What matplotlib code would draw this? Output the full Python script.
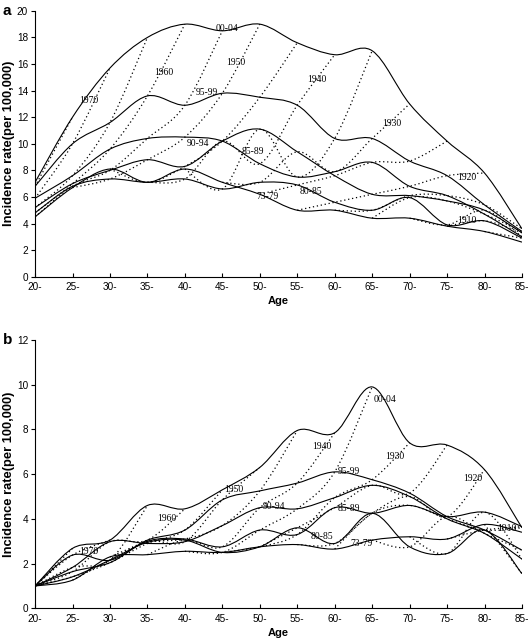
import numpy as np
import matplotlib.pyplot as plt
from matplotlib.path import Path
from matplotlib.patches import PathPatch

plt.rcParams['font.family'] = ['Liberation Sans', 'DejaVu Sans']

ages = [20, 25, 30, 35, 40, 45, 50, 55, 60, 65, 70, 75, 80, 85]
age_labels = [f"{a}-" for a in ages]
periods = ["73-79", "80-85", "85-89", "90-94", "95-99", "00-04"]

# panel a - incidence by period (per 100,000)
a_7379 = [4.5, 6.7, 8.1, 7.1, 8.1, 7.1, 6.2, 5.0, 5.0, 4.4, 4.4, 3.8, 3.4, 2.6]
a_8085 = [4.8, 6.8, 7.35, 7.1, 7.35, 6.6, 7.1, 6.9, 5.6, 5.0, 5.95, 3.9, 4.2, 2.9]
a_8589 = [5.2, 7.0, 8.0, 8.8, 8.3, 10.2, 11.1, 9.4, 7.6, 6.2, 6.1, 5.7, 5.0, 3.3]
a_9094 = [5.9, 7.6, 9.6, 10.4, 10.5, 10.2, 8.5, 7.5, 7.9, 8.6, 6.8, 6.1, 4.7, 3.0]
a_9599 = [6.8, 10.0, 11.6, 13.6, 12.9, 13.8, 13.5, 12.9, 10.4, 10.4, 8.7, 7.6, 5.4, 3.4]
a_0004 = [7.1, 12.0, 15.7, 18.0, 19.0, 18.5, 19.0, 17.6, 16.7, 17.0, 13.0, 10.2, 7.8, 3.6]

# panel b
b_7379 = [1.0, 1.26, 2.3, 2.4, 2.55, 2.5, 2.75, 2.85, 2.65, 3.05, 3.2, 3.1, 3.75, 3.4]
b_8085 = [1.0, 1.41, 2.16, 2.95, 3.05, 2.5, 2.75, 3.6, 2.9, 4.25, 2.75, 2.45, 3.5, 1.55]
b_8589 = [1.0, 1.64, 2.04, 3.0, 3.1, 2.75, 3.5, 3.3, 4.5, 4.25, 4.6, 4.1, 4.3, 3.65]
b_9094 = [1.0, 1.83, 2.98, 2.9, 2.98, 3.7, 4.5, 4.45, 4.95, 5.5, 5.0, 4.0, 3.35, 2.2]
b_9599 = [1.0, 2.38, 2.15, 3.05, 3.5, 4.85, 5.25, 5.6, 6.1, 5.75, 5.15, 4.1, 3.5, 2.6]
b_0004 = [1.0, 2.68, 3.05, 4.6, 4.45, 5.3, 6.3, 7.95, 7.85, 9.9, 7.4, 7.3, 6.2, 3.6]

# text labels: (text, age, rate)
labels_a = [("00-04", 45.6, 18.7), ("95-99", 43.0, 13.85), ("90-94", 41.8, 10.0),
            ("85-89", 49.1, 9.45), ("80-85", 56.8, 6.4), ("73-79", 51.0, 6.05),
            ("1970", 27.2, 13.25), ("1960", 37.2, 15.4), ("1950", 46.8, 16.1),
            ("1940", 57.6, 14.8), ("1930", 67.6, 11.55), ("1920", 77.7, 7.5),
            ("1910", 77.6, 4.25)]
labels_b = [("00-04", 66.7, 9.32), ("95-99", 61.9, 6.1), ("90-94", 51.9, 4.55),
            ("85-89", 61.9, 4.47), ("80-85", 58.3, 3.23), ("73-79", 63.6, 2.88),
            ("1970", 27.2, 2.55), ("1960", 37.6, 4.0), ("1950", 46.5, 5.3),
            ("1940", 58.3, 7.25), ("1930", 68.0, 6.8), ("1920", 78.5, 5.8),
            ("1910", 83.0, 3.55)]


def smooth_path(xs, ys):
    pts = np.column_stack([xs, ys]).astype(float)
    n = len(pts)
    verts = [pts[0]]
    codes = [Path.MOVETO]
    for i in range(n - 1):
        p0 = pts[max(i - 1, 0)]
        p1 = pts[i]
        p2 = pts[i + 1]
        p3 = pts[min(i + 2, n - 1)]
        verts += [p1 + (p2 - p0) / 6, p2 - (p3 - p1) / 6, p2]
        codes += [Path.CURVE4] * 3
    return Path(verts, codes)


def draw_panel(ax, series, labels, ymax, letter):
    grid = np.array(series)  # rows = period, cols = age
    # period curves (solid)
    for row in grid:
        ax.add_patch(PathPatch(smooth_path(ages, row), fill=False,
                               edgecolor='black', lw=0.8))
    # cohort curves (dotted): period k at age i -> period k+1 at age i+1
    n_p, n_a = grid.shape
    for j in range(-(n_p - 1), n_a):
        xs, ys = [], []
        for k in range(n_p):
            i = j + k
            if 0 <= i < n_a:
                xs.append(ages[i])
                ys.append(grid[k, i])
        if len(xs) > 1:
            ax.add_patch(PathPatch(smooth_path(xs, ys), fill=False,
                                   edgecolor='black', lw=0.9,
                                   linestyle=(0, (1.0, 2.2))))
    for txt, x, y in labels:
        ax.text(x, y, txt, ha='center', va='center', fontsize=6.9,
                family='Liberation Serif')

    ax.set_xlim(20, 85)
    ax.set_ylim(0, ymax)
    ax.set_xticks(ages)
    ax.set_xticklabels(age_labels)
    ax.set_yticks(range(0, ymax + 1, 2))
    ax.spines['top'].set_visible(False)
    ax.spines['right'].set_visible(False)
    for s in ('left', 'bottom'):
        ax.spines[s].set_linewidth(0.8)
    ax.tick_params(axis='x', direction='in', length=3, labelsize=7.2, pad=4)
    ax.tick_params(axis='y', direction='out', length=3, labelsize=7.2, pad=2)
    ax.set_xlabel('Age', fontweight='bold', fontsize=8, labelpad=3)
    ax.set_ylabel('Incidence rate(per 100,000)', fontweight='bold',
                  fontsize=9.3)
    ax.yaxis.set_label_coords(-0.042, 0.5)
    ax.text(-0.066, 1.0, letter, transform=ax.transAxes, fontsize=11,
            fontweight='bold', ha='left', va='center')


fig = plt.figure(figsize=(5.31, 6.39), dpi=100)
ax_a = fig.add_axes([0.066, 0.567, 0.917, 0.416])
ax_b = fig.add_axes([0.066, 0.048, 0.917, 0.420])

draw_panel(ax_a, [a_7379, a_8085, a_8589, a_9094, a_9599, a_0004],
           labels_a, 20, 'a')
draw_panel(ax_b, [b_7379, b_8085, b_8589, b_9094, b_9599, b_0004],
           labels_b, 12, 'b')

fig.savefig('out.png', dpi=100)
